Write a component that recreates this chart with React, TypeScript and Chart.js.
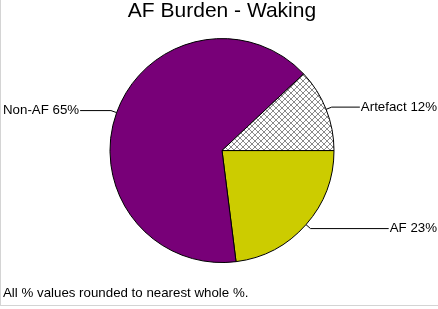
import React, { useEffect, useRef } from "react";
import { Chart, registerables } from "chart.js";

Chart.register(...registerables);

const categories = ["AF", "Non-AF", "Artefact"];
const values = [23, 65, 12];
const labelTexts = ["AF 23%", "Non-AF 65%", "Artefact 12%"];
const titleText = "AF Burden - Waking";
const footnote = "All % values rounded to nearest whole %.";

const FONT = "'Liberation Sans', Arial, sans-serif";

function makeHatch(): CanvasPattern | string {
  const c = document.createElement("canvas");
  c.width = 6;
  c.height = 6;
  const g = c.getContext("2d");
  if (!g) return "#ffffff";
  g.fillStyle = "#ffffff";
  g.fillRect(0, 0, 6, 6);
  g.strokeStyle = "#8a8a8a";
  g.lineWidth = 1;
  g.beginPath();
  g.moveTo(-1, -1);
  g.lineTo(7, 7);
  g.moveTo(-1, 5);
  g.lineTo(1, 7);
  g.moveTo(5, -1);
  g.lineTo(7, 1);
  g.moveTo(7, -1);
  g.lineTo(-1, 7);
  g.moveTo(1, -1);
  g.lineTo(-1, 1);
  g.moveTo(7, 5);
  g.lineTo(5, 7);
  g.stroke();
  const p = g.createPattern(c, "repeat");
  return p || "#ffffff";
}

const labelPlugin = {
  id: "leaderLabels",
  afterDatasetsDraw(chart: any) {
    const ctx = chart.ctx;
    const meta = chart.getDatasetMeta(0);
    ctx.save();
    ctx.font = `13.3px ${FONT}`;
    ctx.fillStyle = "#000";
    ctx.strokeStyle = "#000";
    ctx.lineWidth = 1;
    ctx.textBaseline = "middle";
    meta.data.forEach((arc: any, i: number) => {
      const p = arc.getProps(["x", "y", "startAngle", "endAngle", "outerRadius"], true);
      const mid = (p.startAngle + p.endAngle) / 2;
      const ex = p.x + Math.cos(mid) * p.outerRadius;
      const ey = p.y + Math.sin(mid) * p.outerRadius;
      const bx = ex + Math.cos(mid) * 6;
      const by = ey + Math.sin(mid) * 6;
      const text = labelTexts[i];
      const w = ctx.measureText(text).width;
      const right = Math.cos(mid) >= 0;
      let lx: number;
      if (right) {
        const tx = chart.width - 1;
        ctx.textAlign = "right";
        ctx.fillText(text, tx, by);
        lx = tx - w - 1;
      } else {
        const tx = 3;
        ctx.textAlign = "left";
        ctx.fillText(text, tx, by);
        lx = tx + w + 1;
      }
      ctx.beginPath();
      ctx.moveTo(ex, ey);
      ctx.lineTo(bx, by);
      ctx.lineTo(lx, by);
      ctx.stroke();
    });
    // footnote
    ctx.textAlign = "left";
    ctx.font = `13.3px ${FONT}`;
    ctx.fillText(footnote, 3, 293);
    // frame lines
    ctx.strokeStyle = "#d4d4d4";
    ctx.beginPath();
    ctx.moveTo(0.5, 0);
    ctx.lineTo(0.5, 305);
    ctx.moveTo(0, 305.5);
    ctx.lineTo(chart.width, 305.5);
    ctx.stroke();
    ctx.restore();
  },
};

export default function App() {
  const ref = useRef<HTMLCanvasElement | null>(null);
  useEffect(() => {
    document.body.style.margin = "0";
    if (!ref.current) return;
    const chart = new Chart(ref.current, {
      type: "pie",
      data: {
        labels: categories,
        datasets: [
          {
            data: values,
            backgroundColor: ["#cccc00", "#780078", makeHatch() as any],
            borderColor: "#000000",
            borderWidth: 1,
          },
        ],
      },
      options: {
        animation: false,
        responsive: false,
        rotation: 90,
        radius: 112,
        layout: { padding: { top: 0, bottom: 31, left: 6, right: 0 } },
        plugins: {
          legend: { display: false },
          tooltip: { enabled: false },
          title: {
            display: true,
            text: titleText,
            color: "#000",
            font: { family: FONT, size: 21, weight: "normal", lineHeight: 1.1 },
            padding: { top: 0, bottom: 0 },
          },
        },
      },
      plugins: [labelPlugin],
    });
    return () => chart.destroy();
  }, []);
  return (
    <div style={{ position: "absolute", left: 0, top: 0, width: 438, height: 309 }}>
      <canvas ref={ref} width={438} height={309} style={{ width: 438, height: 309 }} />
    </div>
  );
}
